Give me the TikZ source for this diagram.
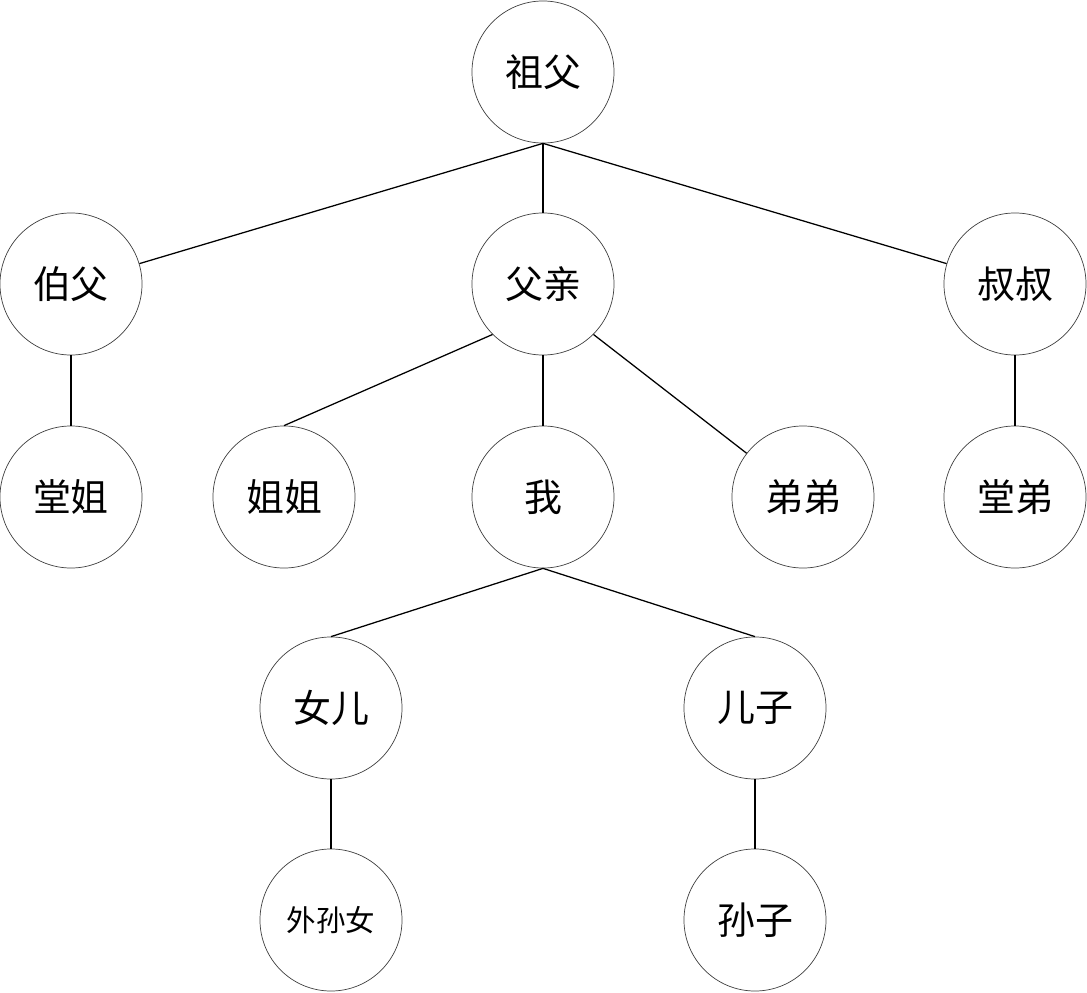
\documentclass[tikz,border=0pt]{standalone}
\usepackage{fontspec}
\setmainfont{Noto Sans CJK SC}
\begin{document}
\begin{tikzpicture}[x=0.025cm,y=-0.025cm,
    every node/.style={circle,draw=black!75,line width=0.5pt,minimum size=3.55cm,inner sep=0pt,font=\fontsize{27}{27}\selectfont},
    small/.style={font=\fontsize{21}{21}\selectfont}]
      \useasboundingbox (0,0) rectangle (1087,993);
      \draw
        (543,72) node (zufu){祖父}
        (71,284) node (bofu){伯父}
        (543,284) node (fuqin){父亲}
        (1015,284) node (shushu){叔叔}
        (71,497) node (tangjie){堂姐}
        (284,497) node (jiejie){姐姐}
        (543,497) node (wo){我}
        (803,497) node (didi){弟弟}
        (1015,497) node (tangdi){堂弟}
        (331,708) node (nver){女儿}
        (755,708) node (erzi){儿子}
        (331,920) node[small] (waisunnv){外孙女}
        (755,920) node (sunzi){孙子};
      \begin{scope}[-,line width=0.9pt]
        \draw (zufu.south) to (bofu);
        \draw (zufu.south) to (fuqin.north);
        \draw (zufu.south) to (shushu);
        \draw (bofu) to (tangjie);
        \draw (fuqin.south west) to (jiejie.north);
        \draw (fuqin) to (wo);
        \draw (fuqin.south east) to (didi);
        \draw (shushu) to (tangdi);
        \draw (wo.south) to (nver.north);
        \draw (wo.south) to (erzi.north);
        \draw (nver) to (waisunnv);
        \draw (erzi) to (sunzi);
      \end{scope}
    \end{tikzpicture}
\end{document}
